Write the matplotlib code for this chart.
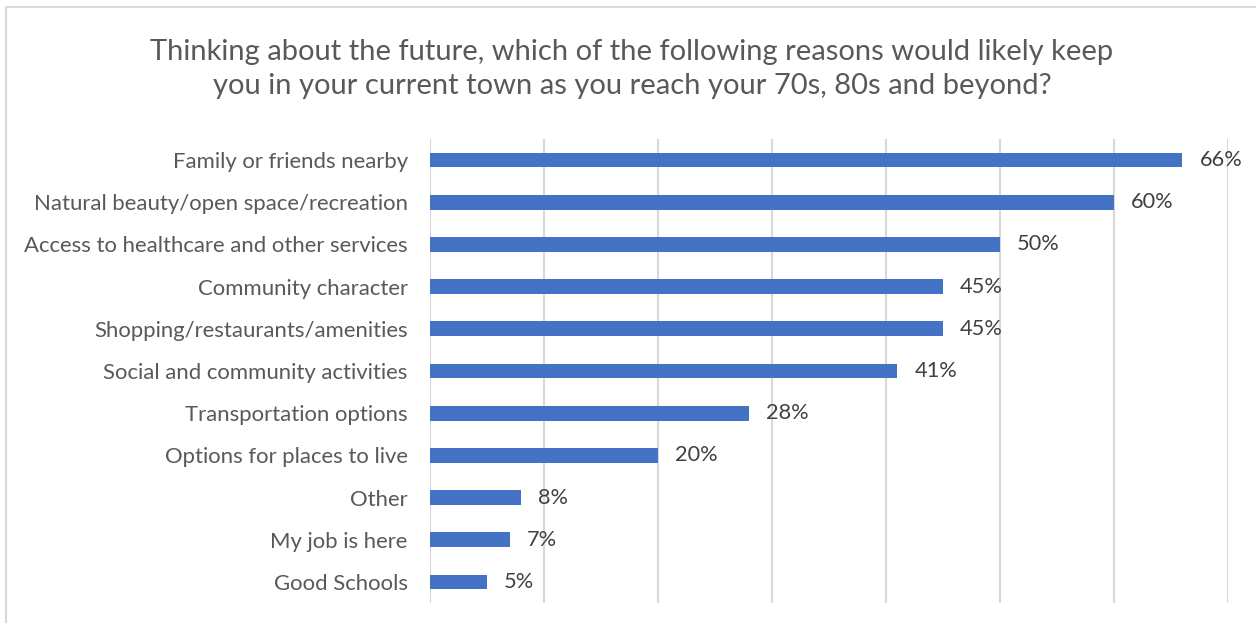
import numpy as np
import matplotlib.pyplot as plt
from matplotlib.patches import Rectangle

# survey answers, top to bottom as shown
reasons = ['Family or friends nearby', 'Natural beauty/open space/recreation',
           'Access to healthcare and other services', 'Community character',
           'Shopping/restaurants/amenities', 'Social and community activities',
           'Transportation options', 'Options for places to live', 'Other',
           'My job is here', 'Good Schools']
pct = [66, 60, 50, 45, 45, 41, 28, 20, 8, 7, 5]

plt.rcParams['font.family'] = ['Lato', 'DejaVu Sans']
txt = '#595959'

fig = plt.figure(figsize=(12.56, 6.23), dpi=100)
# light frame round the chart area
fig.patches.append(Rectangle((6 / 1256, -0.1), 1.1, (623 - 7) / 623 + 0.1,
                             transform=fig.transFigure, fill=False,
                             edgecolor='#d9d9d9', linewidth=1.5))

ax = fig.add_axes([430 / 1256, 20 / 623, 798 / 1256, 464 / 623])
y = np.arange(len(reasons))
ax.barh(y, pct, height=0.35, color='#4472c4', zorder=3)
for yi, v in zip(y, pct):
    ax.text(v + 1.5, yi, '%d%%' % v, va='center', ha='left', fontsize=15.7, color='#404040')

ax.set_xlim(0, 70)
ax.set_ylim(len(reasons) - 0.5, -0.5)
ax.set_xticks(np.arange(0, 71, 10))
ax.set_xticklabels([])
ax.tick_params(axis='x', length=0)
ax.grid(axis='x', color='#d9d9d9', linewidth=1.5, zorder=0)
ax.set_yticks(y)
ax.set_yticklabels(reasons, fontsize=15.9, color=txt)
ax.tick_params(axis='y', length=0, pad=16)
for s in ax.spines.values():
    s.set_visible(False)

fig.text(632 / 1256, 1 - 69 / 623,
         'Thinking about the future, which of the following reasons would likely keep\n'
         'you in your current town as you reach your 70s, 80s and beyond?',
         ha='center', va='center', fontsize=21, color=txt, linespacing=1.42)

plt.savefig('out.png', dpi=100)
